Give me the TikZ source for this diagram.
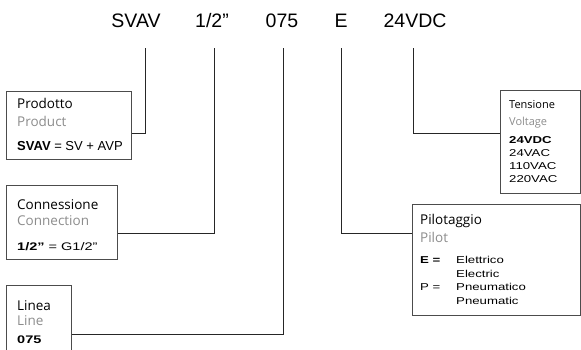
\documentclass[tikz,border=0pt]{standalone}
\usepackage{fontspec}
\setmainfont{Liberation Sans}
\newfontfamily\titlefont{Open Sans}
\newfontfamily\widefont[FakeStretch=1.32]{Liberation Sans}
\usepackage{tikz}
\usetikzlibrary{positioning, calc}

\begin{document}
\begin{tikzpicture}[x=1pt, y=-1pt,
    code/.style={font=\fontsize{19.5}{22}\selectfont, anchor=base, inner sep=0pt},
    box/.style={draw=black!70, line width=0.8pt, anchor=north west, inner sep=0pt},
    title/.style={font=\titlefont\fontsize{13.5}{16}\selectfont, anchor=base west, inner sep=0pt},
    subtitle/.style={title, text=black!45},
    value/.style={font=\fontsize{13}{15}\selectfont, anchor=base west, inner sep=0pt},
    widevalue/.style={font=\widefont\fontsize{11}{13}\selectfont, anchor=base west, inner sep=0pt},
    small/.style={font=\widefont\fontsize{10}{12}\selectfont, anchor=base west, inner sep=0pt},
    conn/.style={draw=black!85, line width=0.8pt}
]
    \useasboundingbox (0,0) rectangle (581,349);

    % code line
    \node[code] (cSVAV) at (136,27) {SVAV};
    \node[code] (cHalf) at (212,27) {1/2”};
    \node[code] (cLine) at (282,27) {075};
    \node[code] (cPilot) at (341,27) {E};
    \node[code] (cVolt) at (415,27) {24VDC};

    \coordinate (tSVAV) at (145,48);
    \coordinate (tHalf) at (214,48);
    \coordinate (tLine) at (283,48);
    \coordinate (tPilot) at (341,48);
    \coordinate (tVolt) at (413,48);

    % left boxes
    \node[box, minimum width=125, minimum height=68, name=prod] at (6,91) {};
    \node[title, name=prodIt] at (17,108) {Prodotto};
    \node[subtitle, name=prodEn] at (17,126) {Product};
    \node[value, name=prodVal] at (17,150) {\textbf{SVAV} = SV + AVP};

    \node[box, minimum width=111, minimum height=74, name=conx] at (6,185) {};
    \node[title, name=conxIt] at (17,209) {Connessione};
    \node[subtitle, name=conxEn] at (17,225) {Connection};
    \node[widevalue, name=conxVal] at (17,250) {\textbf{1/2”} = G1/2”};

    \node[box, minimum width=65, minimum height=90, name=linea] at (6,285) {};
    \node[title, name=lineaIt] at (17,310) {Linea};
    \node[subtitle, name=lineaEn] at (17,325) {Line};
    \node[widevalue, name=lineaVal] at (17,343) {\textbf{075}};

    % right boxes
    \node[box, minimum width=80, minimum height=103, name=volt] at (500,90) {};
    \node[title, font=\titlefont\fontsize{11}{13}\selectfont, name=voltIt] at (509,108) {Tensione};
    \node[subtitle, font=\titlefont\fontsize{11}{13}\selectfont, name=voltEn] at (509,125) {Voltage};
    \node[small, name=v1] at (509,143) {\textbf{24VDC}};
    \node[small, name=v2] at (509,156) {24VAC};
    \node[small, name=v3] at (509,169) {110VAC};
    \node[small, name=v4] at (509,182) {220VAC};

    \node[box, minimum width=168, minimum height=111, name=pilot] at (412,204) {};
    \node[title, name=pilotIt] at (420,224) {Pilotaggio};
    \node[subtitle, name=pilotEn] at (420,242) {Pilot};
    \node[small, name=pE] at (420,263) {\textbf{E =}};
    \node[small, name=pEit] at (456,263) {Elettrico};
    \node[small, name=pEen] at (456,277) {Electric};
    \node[small, name=pP] at (420,290) {P =};
    \node[small, name=pPit] at (456,290) {Pneumatico};
    \node[small, name=pPen] at (456,304) {Pneumatic};

    % connectors
    \draw[conn] (tSVAV) |- ($(prod.north east)+(0,42)$);
    \draw[conn] (tHalf) |- ($(conx.north east)+(0,48)$);
    \draw[conn] (tLine) |- ($(linea.north east)+(0,49)$);
    \draw[conn] (tPilot) |- ($(pilot.north west)+(0,29)$);
    \draw[conn] (tVolt) |- ($(volt.north west)+(0,43)$);
\end{tikzpicture}
\end{document}
